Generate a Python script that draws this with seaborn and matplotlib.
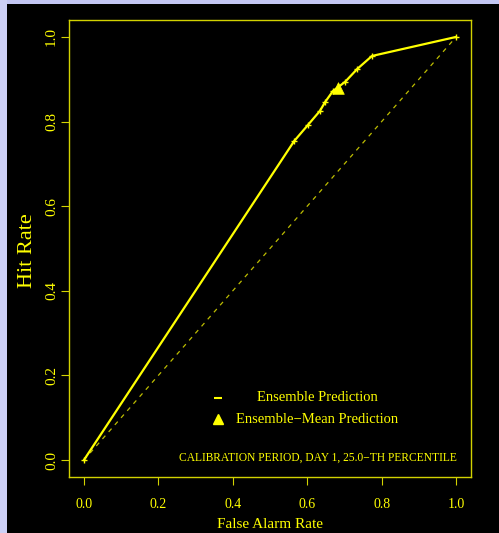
import matplotlib
matplotlib.use("Agg")
import matplotlib.pyplot as plt
from matplotlib.patches import Rectangle
import seaborn as sns
import pandas as pd

# ROC points for the ensemble prediction (false alarm rate, hit rate)
false_alarm = [0.0, 0.565, 0.602, 0.634, 0.648, 0.669, 0.702, 0.734, 0.774, 1.0]
hit_rate = [0.0, 0.754, 0.792, 0.825, 0.846, 0.872, 0.894, 0.924, 0.955, 1.0]

# single point for the ensemble-mean prediction
mean_far = [0.683]
mean_hr = [0.879]

ticks = [0.0, 0.2, 0.4, 0.6, 0.8, 1.0]
tick_labels = ["0.0", "0.2", "0.4", "0.6", "0.8", "1.0"]

legend_labels = ["Ensemble Prediction", "Ensemble\u2212Mean Prediction"]
caption = "CALIBRATION PERIOD, DAY 1, 25.0\u2212TH PERCENTILE"

sns.set_theme(style="white")
plt.rcParams["font.family"] = ["Liberation Serif", "DejaVu Serif"]

YEL = "#ffff00"
DIM = "#d2d200"

W, H = 499, 533
fig = plt.figure(figsize=(W / 100, H / 100), dpi=100, facecolor="black")

# light border strips along the top and left edges
fig.patches.append(Rectangle((0, 1 - 4 / H), 1, 4 / H, transform=fig.transFigure,
                             facecolor="#c3c6f3", edgecolor="none", zorder=0))
fig.patches.append(Rectangle((0, 0), 7 / W, 1, transform=fig.transFigure,
                             facecolor="#cdd0f6", edgecolor="none", zorder=0))

ax = fig.add_axes([69 / W, (H - 477) / H, (471 - 69) / W, (477 - 20) / H])
ax.set_facecolor("black")

roc = pd.DataFrame({"far": false_alarm, "hr": hit_rate})
ens_mean = pd.DataFrame({"far": mean_far, "hr": mean_hr})

# no-skill diagonal
ax.plot([0, 1], [0, 1], color="#bcbc00", lw=0.9, dashes=(3.5, 4), zorder=1)

sns.lineplot(data=roc, x="far", y="hr", ax=ax, color=YEL, lw=1.6,
             sort=False, estimator=None, zorder=2)
sns.scatterplot(data=roc, x="far", y="hr", ax=ax, color=YEL, marker="+",
                s=22, linewidth=1.0, zorder=3)
sns.scatterplot(data=ens_mean, x="far", y="hr", ax=ax, color=YEL, marker="^",
                s=70, edgecolor=YEL, linewidth=0.5, zorder=4)

ax.set_xlim(-0.04, 1.04)
ax.set_ylim(-0.04, 1.04)

# legend drawn as text rows with their symbols
ax.plot([0.360], [0.147], marker="_", ms=6, mew=1.5, color=YEL, ls="none")
ax.plot([0.360], [0.097], marker="^", ms=7, color=YEL, ls="none")
ax.text(0.626, 0.147, legend_labels[0], color=YEL, fontsize=10.5,
        ha="center", va="center")
ax.text(0.626, 0.097, legend_labels[1], color=YEL, fontsize=10.5,
        ha="center", va="center")

ax.text(1.003, 0.005, caption, color=YEL, fontsize=8.3, ha="right", va="center")

ax.set_xticks(ticks)
ax.set_xticklabels(tick_labels)
ax.set_yticks(ticks)
ax.set_yticklabels(tick_labels, rotation=90, va="center")
ax.tick_params(axis="both", colors=DIM, labelcolor=YEL,
               direction="out", length=6, width=0.8, left=True, bottom=True)
ax.tick_params(axis="x", pad=9, labelsize=10)
ax.tick_params(axis="y", pad=2, labelsize=11)

ax.set_xlabel("False Alarm Rate", color=YEL, fontsize=11, va="center")
ax.set_ylabel("Hit Rate", color=YEL, fontsize=16, va="center")
ax.xaxis.set_label_coords(0.5, (477 - 525) / 457)
ax.yaxis.set_label_coords((28 - 69) / 402, 0.496)

for sp in ax.spines.values():
    sp.set_visible(True)
    sp.set_color(DIM)
    sp.set_linewidth(1.0)

fig.savefig("out.png", dpi=100, facecolor="black")
